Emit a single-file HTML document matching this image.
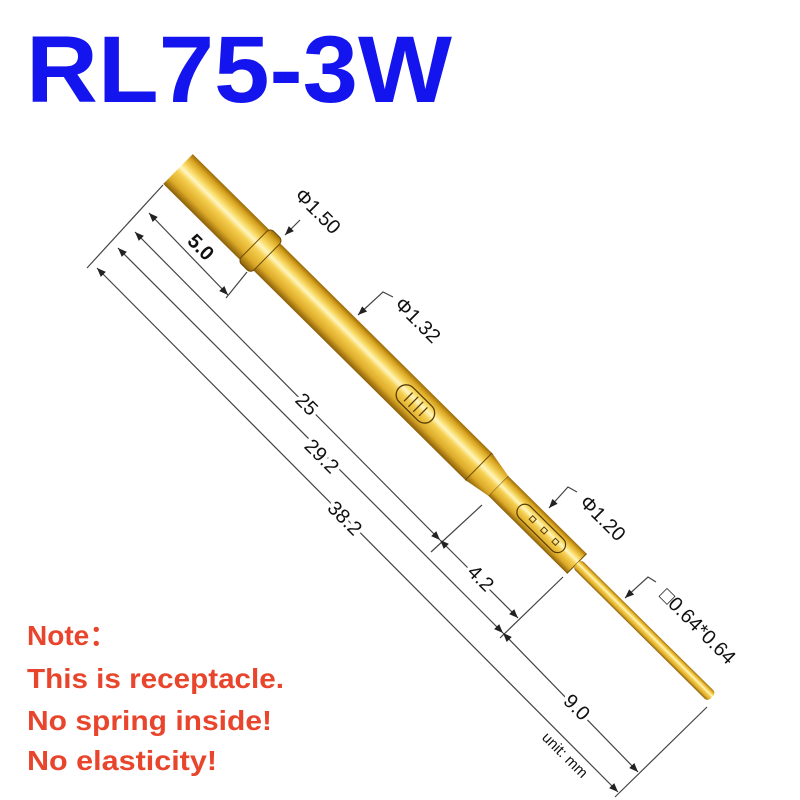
<!DOCTYPE html>
<html><head><meta charset="utf-8"><style>
html,body{margin:0;padding:0;background:#fff;}
svg{display:block;}
</style></head><body>
<svg width="800" height="800" viewBox="0 0 800 800" xmlns="http://www.w3.org/2000/svg">
<defs>
<linearGradient id="g" x1="0" y1="0" x2="0" y2="1">
<stop offset="0" stop-color="#9a6a08"/>
<stop offset="0.12" stop-color="#d8a420"/>
<stop offset="0.3" stop-color="#f8d860"/>
<stop offset="0.42" stop-color="#fff6c0"/>
<stop offset="0.55" stop-color="#f6cf50"/>
<stop offset="0.8" stop-color="#dcaa28"/>
<stop offset="1" stop-color="#8a5e08"/>
</linearGradient>
<marker id="ar" viewBox="0 0 10 10" refX="10" refY="5" markerWidth="9" markerHeight="9" markerUnits="userSpaceOnUse" orient="auto">
<path d="M0,1 L10,5 L0,9 z" fill="#222"/>
</marker>
<marker id="al" viewBox="0 0 10 10" refX="0" refY="5" markerWidth="9" markerHeight="9" markerUnits="userSpaceOnUse" orient="auto">
<path d="M10,1 L0,5 L10,9 z" fill="#222"/>
</marker>
</defs>

<text x="26" y="102" font-family="Liberation Sans, sans-serif" font-weight="bold" font-size="95" fill="#1414ee" textLength="426" lengthAdjust="spacingAndGlyphs">RL75-3W</text>

<!-- pin -->
<g transform="translate(178,169) rotate(44.7)">
<rect x="0" y="-21" width="110" height="42" fill="url(#g)"/>
<rect x="125" y="-19" width="300" height="38" fill="url(#g)"/>
<polygon points="423,-19 451,-14 451,14 423,19" fill="url(#g)"/>
<line x1="423" y1="-19" x2="423" y2="19" stroke="#6a4a08" stroke-width="1"/>
<line x1="451" y1="-14" x2="451" y2="14" stroke="#6a4a08" stroke-width="1"/>
<rect x="451" y="-14" width="110" height="28" fill="url(#g)"/>
<line x1="561" y1="-14" x2="561" y2="14" stroke="#6a4a08" stroke-width="1"/>
<rect x="561" y="-6" width="190" height="12" rx="4" fill="url(#g)"/>
<rect x="107" y="-23" width="18" height="46" rx="5" fill="url(#g)" stroke="#6a4a08" stroke-width="1"/>
<rect x="311" y="-10" width="46" height="20" rx="10" fill="none" stroke="#5a3e06" stroke-width="1.3"/>
<g stroke="#5a3e06" stroke-width="1.3">
<line x1="324" y1="-6" x2="324" y2="6"/><line x1="331" y1="-7" x2="331" y2="7"/><line x1="338" y1="-7" x2="338" y2="7"/><line x1="345" y1="-6" x2="345" y2="6"/>
</g>
<rect x="480" y="-8" width="62" height="16" rx="8" fill="none" stroke="#5a3e06" stroke-width="1.2"/>
<g fill="none" stroke="#5a3e06" stroke-width="1">
<rect x="496" y="-3" width="5" height="5"/><rect x="512" y="-3" width="5" height="5"/><rect x="528" y="-3" width="5" height="5"/>
</g>
</g>

<!-- dimension lines -->
<g stroke="#444" stroke-width="1.2" fill="none">
<line x1="163" y1="185" x2="87" y2="268"/>
<line x1="247" y1="272" x2="226" y2="298"/>
<line x1="482" y1="505" x2="431" y2="552"/>
<line x1="563" y1="577" x2="500" y2="638"/>
<line x1="707" y1="707" x2="615" y2="797"/>
<line x1="149" y1="213" x2="228" y2="295" marker-start="url(#al)" marker-end="url(#ar)"/>
<line x1="135" y1="232" x2="440" y2="540" marker-start="url(#al)" marker-end="url(#ar)"/>
<line x1="440" y1="540" x2="518" y2="618" marker-start="url(#al)" marker-end="url(#ar)"/>
<line x1="118" y1="248" x2="503" y2="633" marker-start="url(#al)" marker-end="url(#ar)"/>
<line x1="503" y1="633" x2="638" y2="772" marker-start="url(#al)" marker-end="url(#ar)"/>
<line x1="97" y1="268" x2="618" y2="792" marker-start="url(#al)" marker-end="url(#ar)"/>
<polyline points="300,220 285,235" marker-end="url(#ar)"/>
<polyline points="393,297 383,292 358,315" marker-end="url(#ar)"/>
<polyline points="577,492 568,487 549,508" marker-end="url(#ar)"/>
<polyline points="656,582 648,577 625,598" marker-end="url(#ar)"/>
</g>

<g font-family="Liberation Sans, sans-serif" font-size="20" fill="#111" text-anchor="middle" stroke="#fff" stroke-width="7" paint-order="stroke" stroke-linejoin="round">
<text transform="translate(201,247) rotate(45)" dy="7" font-weight="bold" stroke="none">5.0</text>
<text transform="translate(307,404) rotate(45)" dy="7">25</text>
<text transform="translate(322,456) rotate(45)" dy="7">29.2</text>
<text transform="translate(345,518) rotate(45)" dy="7">38.2</text>
<text transform="translate(481,578) rotate(45)" dy="7">4.2</text>
<text transform="translate(577,707) rotate(45)" dy="7">9.0</text>
<text transform="translate(565,755) rotate(45)" dy="5" font-size="15" stroke="none">unit: mm</text>
<text transform="translate(318,211) rotate(45)" dy="7" stroke="none">Φ1.50</text>
<text transform="translate(418,320) rotate(45)" dy="7" stroke="none">Φ1.32</text>
<text transform="translate(603,518) rotate(45)" dy="7" stroke="none">Φ1.20</text>
<text transform="translate(698,626) rotate(45)" dy="7" stroke="none">□0.64*0.64</text>
</g>

<g font-family="Liberation Sans, sans-serif" font-weight="bold" font-size="28" fill="#e8452c">
<text x="27" y="645">Note：</text>
<text x="27" y="688" textLength="257" lengthAdjust="spacingAndGlyphs">This is receptacle.</text>
<text x="27" y="730" textLength="245" lengthAdjust="spacingAndGlyphs">No spring inside!</text>
<text x="27" y="770" textLength="190" lengthAdjust="spacingAndGlyphs">No elasticity!</text>
</g>
</svg>
</body></html>
